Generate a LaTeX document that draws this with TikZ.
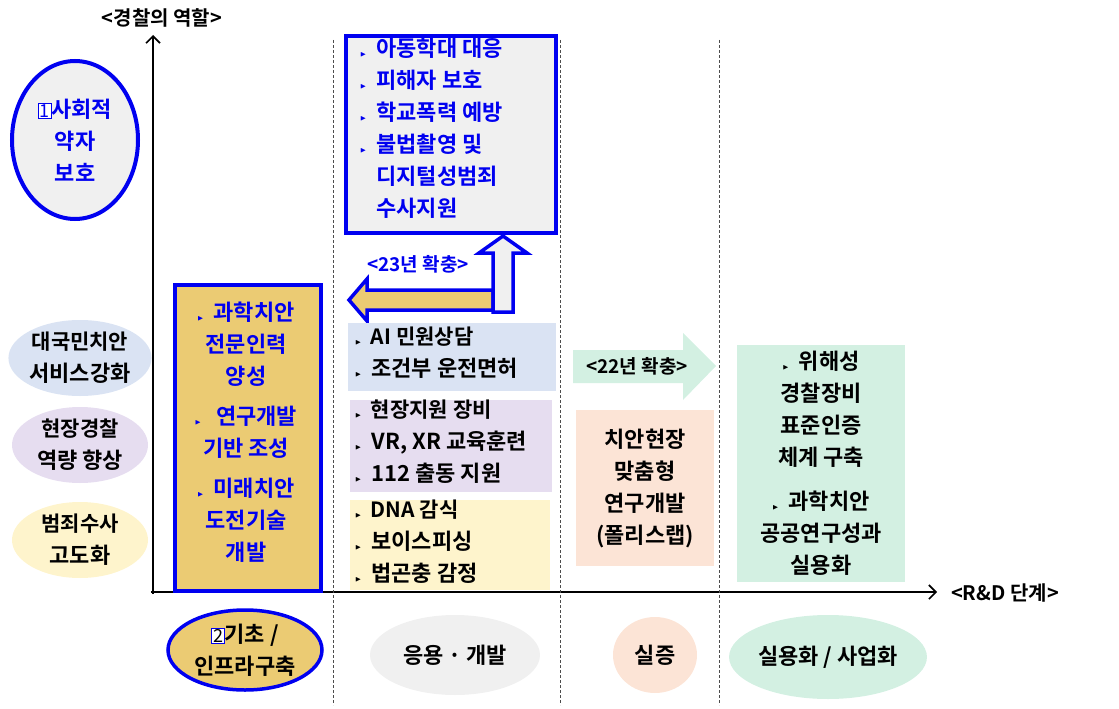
\documentclass[tikz,border=0pt]{standalone}
\usepackage{amssymb}
\usepackage{fontspec}
\setmainfont{Noto Sans CJK KR}[BoldFont={Noto Sans CJK KR Bold}]
\usetikzlibrary{arrows.meta,shapes.geometric}
\definecolor{bl}{HTML}{0000F0}
\definecolor{gy}{HTML}{F0F0F0}
\definecolor{yl}{HTML}{EBCB73}
\definecolor{lb}{HTML}{DAE3F3}
\definecolor{lp}{HTML}{E6DDF0}
\definecolor{ly}{HTML}{FEF4CC}
\definecolor{pc}{HTML}{FCE4D6}
\definecolor{gr}{HTML}{D3F0E2}
\newcommand{\bu}{{\fontsize{7}{7}\selectfont$\blacktriangleright$}\ \ }
\newcommand{\bxn}[1]{{\setlength{\fboxsep}{1pt}\setlength{\fboxrule}{0.6pt}\fcolorbox{bl}{white}{\fontseries{m}\selectfont\fontsize{18}{18}\selectfont #1}}}
\begin{document}
\begin{tikzpicture}[x=1pt,y=-1pt,font=\bfseries\fontsize{22}{32}\selectfont,
  ell/.style={ellipse,align=center,inner sep=0pt},
  bx/.style={draw=none,rectangle,align=left,anchor=north west,inner sep=0pt},
  dl/.style={densely dashed,gray!60!black,line width=0.8pt}]
\useasboundingbox (0,0) rectangle (1119,709);
% axes
\coordinate (o) at (153,592);
\coordinate (yt) at (153,35);
\coordinate (xt) at (937,592);
\draw[line width=1.6pt,-{Straight Barb[length=7pt]}] (153,594) -- (yt);
\draw[line width=1.6pt,-{Straight Barb[length=7pt]}] (151,592) -- (xt);
\node (yl) at (162,18) {\fontsize{20}{24}\selectfont <경찰의 역할>};
\node (xl) at (1005,593) {\fontsize{20}{24}\selectfont <R\&D 단계>};
\draw[dl] (333,40) -- (333,705);
\draw[dl] (560,40) -- (560,705);
\draw[dl] (719,40) -- (719,705);
% left ellipses
\node[ell,draw=bl,line width=4pt,fill=gy,minimum width=126pt,minimum height=158pt,text=bl] (e1) at (75,140) {\bxn{1}사회적\\약자\\보호};
\node[ell,fill=lb,minimum width=136pt,minimum height=76pt] (e2) at (80,358) {\fontsize{21}{28}\selectfont 대국민치안\\서비스강화};
\node[ell,fill=lp,minimum width=136pt,minimum height=76pt] (e3) at (80,445) {\fontsize{21}{28}\selectfont 현장경찰\\역량 향상};
\node[ell,fill=ly,minimum width=136pt,minimum height=76pt] (e4) at (80,540) {\fontsize{21}{28}\selectfont 범죄수사\\고도화};
% yellow box
\node[rectangle,draw=bl,line width=4pt,fill=yl,minimum width=146pt,minimum height=306pt,anchor=north west] (yb) at (173,283) {};
\node[align=center,text=bl,anchor=north] (ybt) at (246,298) {\bu 과학치안\\전문인력\\양성\\[8pt]\bu\ 연구개발\\기반 조성\\[8pt]\bu 미래치안\\도전기술\\개발};
% top box
\node[rectangle,draw=bl,line width=4pt,fill=gy,minimum width=210pt,minimum height=197pt,anchor=north west] (tb) at (344,34) {};
\node[bx,text=bl] (tbt) at (360,38) {\bu 아동학대 대응\\\bu 피해자 보호\\\bu 학교폭력 예방\\\bu 불법촬영 및\\\phantom{\bu}디지털성범죄\\\phantom{\bu}수사지원};
% arrows
\draw[bl,line width=3.5pt,fill=yl] (493,290) -- (367,290) -- (367,279) -- (349,300) -- (367,321) -- (367,310) -- (493,310) -- cycle;
\draw[bl,line width=3.5pt,fill=gy] (493,312) -- (493,253) -- (479,253) -- (503,236) -- (527,253) -- (513,253) -- (513,312) -- cycle;
\node[text=bl] (a23) at (418,264) {\fontsize{19}{22}\selectfont <23년 확충>};
% middle boxes
\node[rectangle,fill=lb,minimum width=208pt,minimum height=68pt,anchor=north west] (m1) at (348,323) {};
\node[bx] (m1t) at (355,327) {\fontsize{21}{31}\selectfont\bu AI 민원상담\\\bu 조건부 운전면허};
\node[rectangle,fill=lp,minimum width=202pt,minimum height=92pt,anchor=north west] (m2) at (350,400) {};
\node[bx] (m2t) at (355,400) {\fontsize{21}{30}\selectfont\bu 현장지원 장비\\\bu VR, XR 교육훈련\\\bu 112 출동 지원};
\node[rectangle,fill=ly,minimum width=200pt,minimum height=90pt,anchor=north west] (m3) at (350,500) {};
\node[bx] (m3t) at (355,500) {\fontsize{21}{29}\selectfont\bu DNA 감식\\\bu 보이스피싱\\\bu 법곤충 감정};
% green arrow
\fill[gr] (573,350) -- (683,350) -- (683,333) -- (716,366) -- (683,400) -- (683,383) -- (573,383) -- cycle;
\node (a22) at (637,366) {\fontsize{19}{22}\selectfont <22년 확충>};
\node[rectangle,fill=pc,minimum width=138pt,minimum height=156pt,anchor=north west] (pb) at (576,410) {};
\node[align=center] (pbt) at (645,488) {치안현장\\맞춤형\\연구개발\\(폴리스랩)};
\node[rectangle,fill=gr,minimum width=168pt,minimum height=237pt,anchor=north west] (gb) at (737,345) {};
\node[align=center,anchor=north] (gbt) at (821,348) {\fontsize{22}{29}\selectfont\bu 위해성\\경찰장비\\표준인증\\체계 구축\\[12pt]\bu 과학치안\\공공연구성과\\실용화};
% bottom ellipses
\node[ell,draw=bl,line width=3.5pt,fill=yl,minimum width=154pt,minimum height=80pt] (b1) at (245,650) {\bxn{2}기초 /\\인프라구축};
\node[ell,fill=gy,minimum width=170pt,minimum height=80pt] (b2) at (455,655) {응용 · 개발};
\node[ell,fill=pc,minimum width=84pt,minimum height=76pt] (b3) at (655,655) {실증};
\node[ell,fill=gr,minimum width=184pt,minimum height=84pt] (b4) at (828,657) {실용화 / 사업화};
\end{tikzpicture}
\end{document}
